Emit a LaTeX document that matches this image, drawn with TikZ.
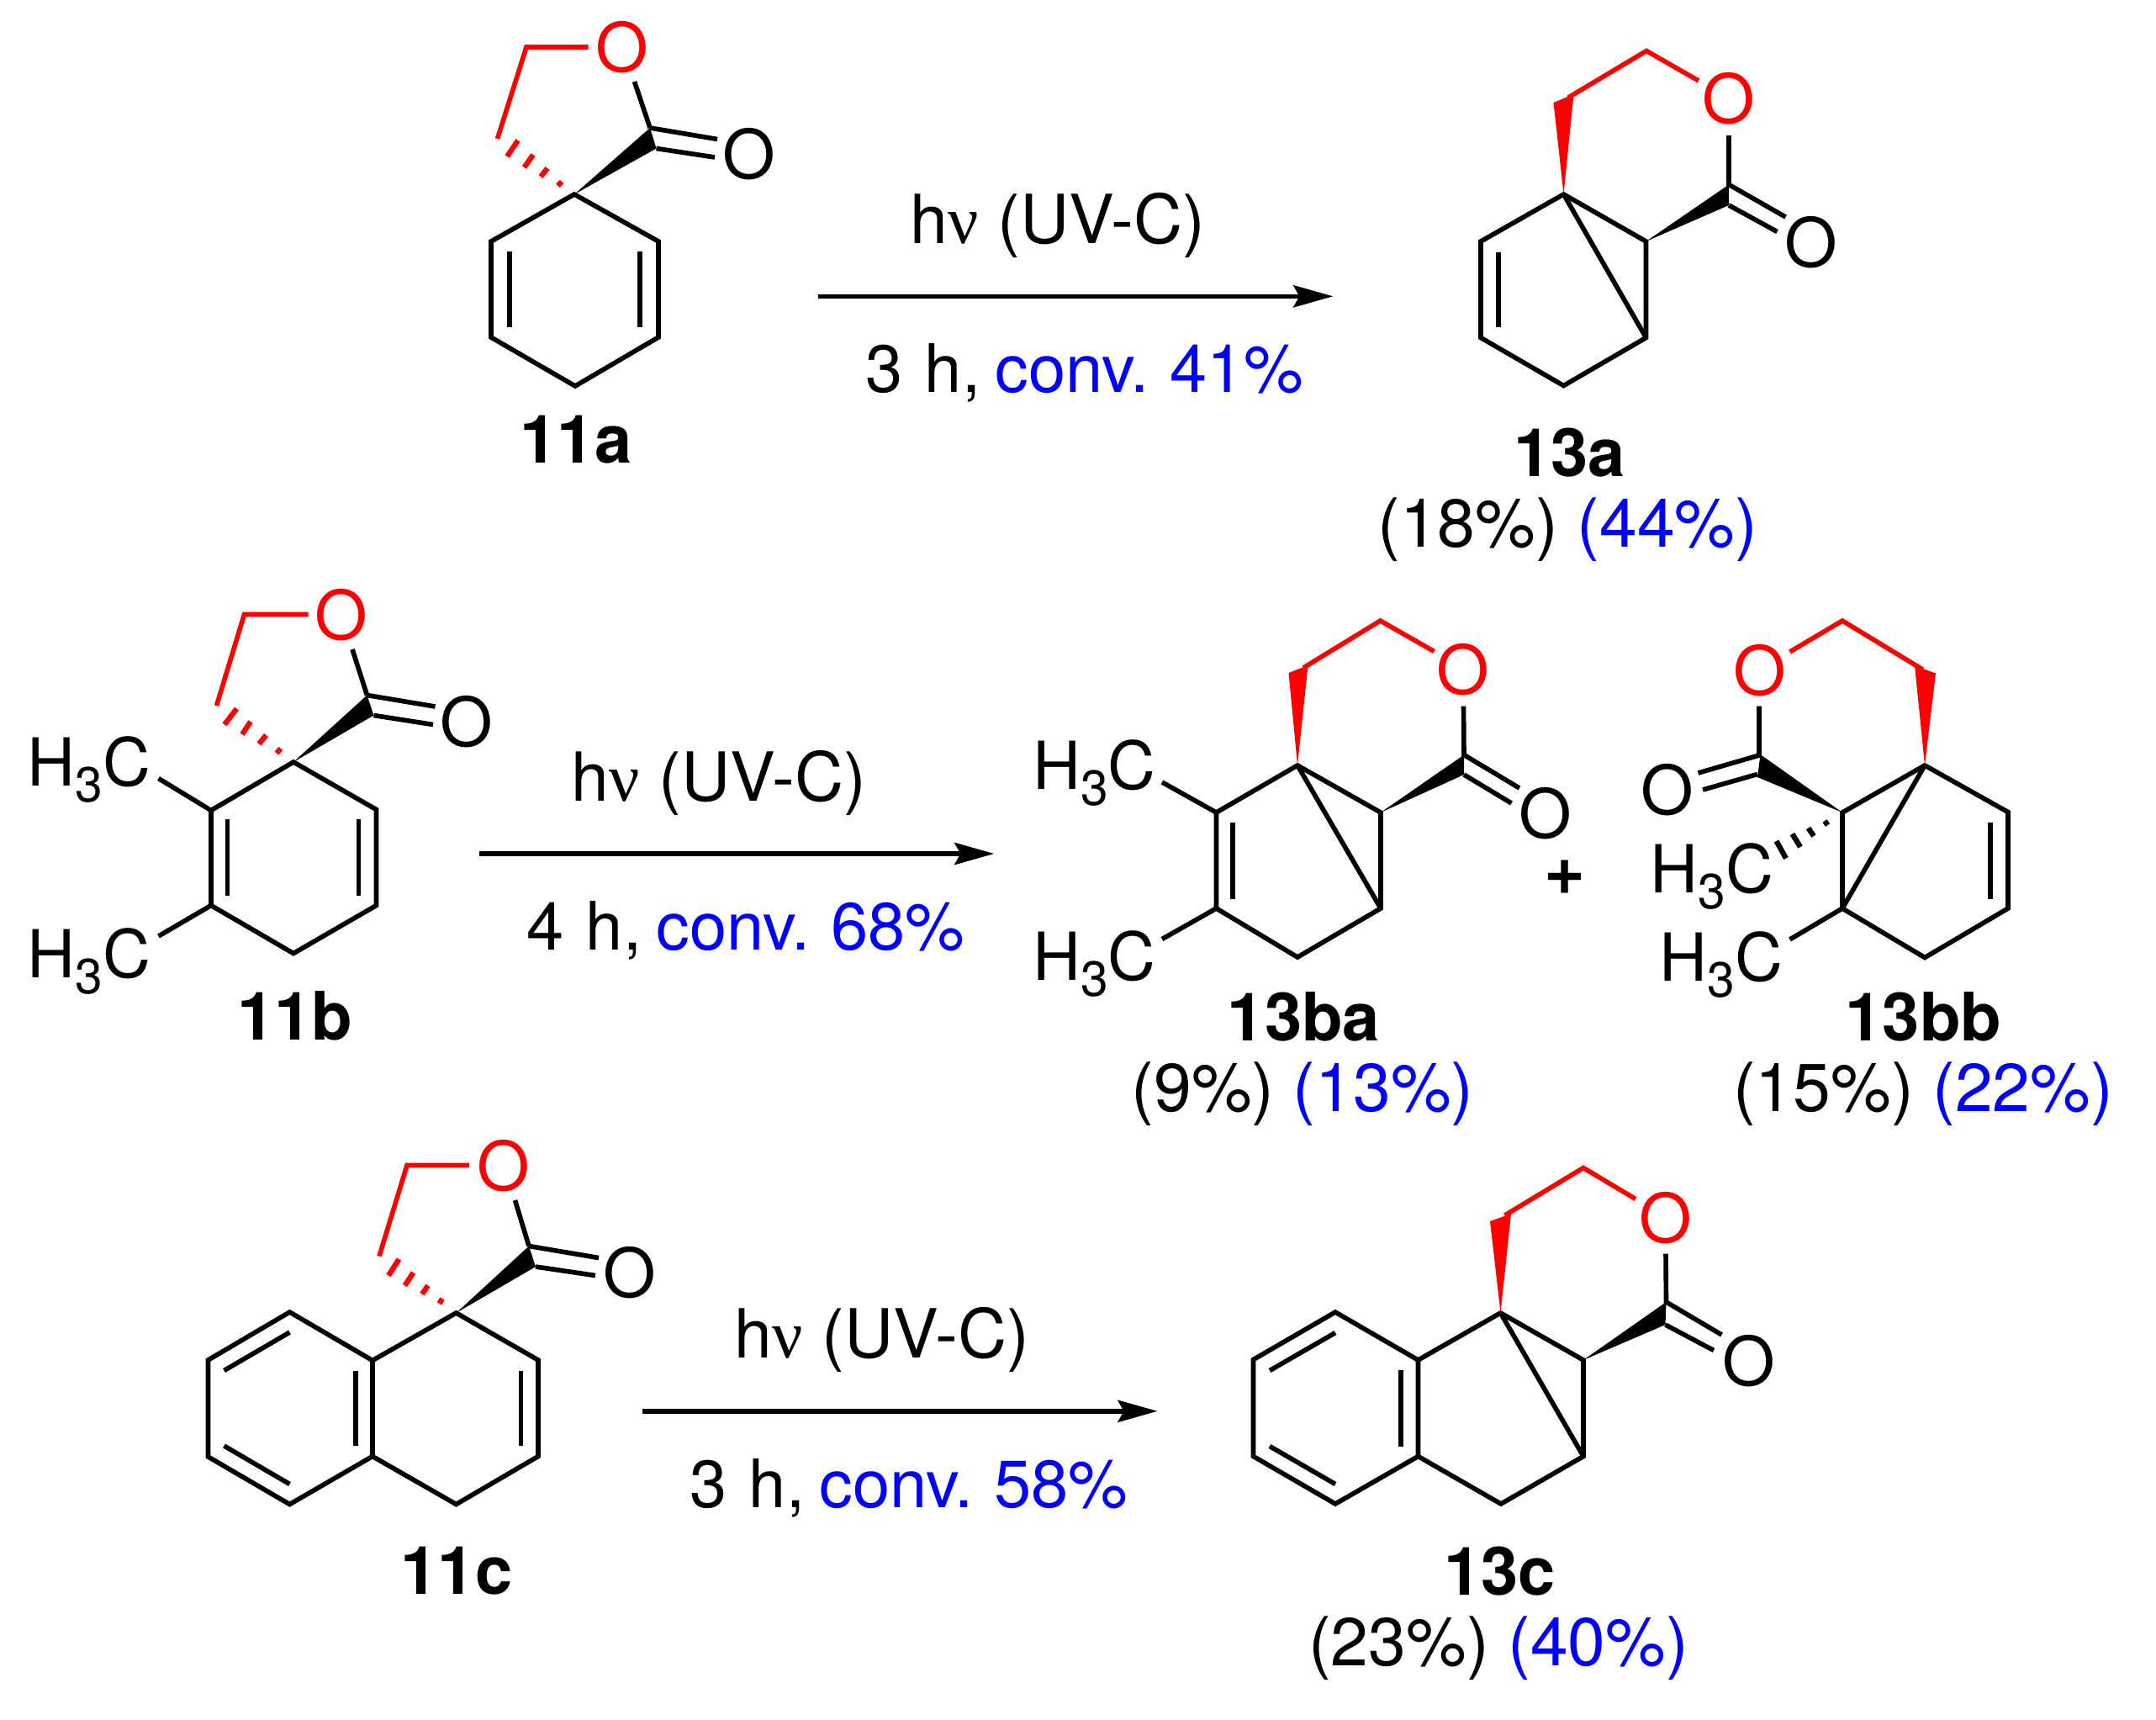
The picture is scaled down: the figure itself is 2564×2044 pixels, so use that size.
\documentclass[tikz,border=0pt]{standalone}
\usepackage{fontspec}
\setmainfont{TeX Gyre Heros}
\newfontfamily\greekfont{Liberation Serif}
\usepackage{tikz}
\usetikzlibrary{arrows.meta}

\newcommand{\chemsize}{\fontsize{22.9}{26}\selectfont}
\newcommand{\boldsize}{\fontsize{22.6}{26}\selectfont\bfseries}
\newcommand{\timesize}{\fontsize{22.6}{26}\selectfont\setlength{\spaceskip}{4.9pt}}
\newcommand{\methylsize}{\fontsize{22.4}{26}\selectfont}
\newcommand{\plussize}{\fontsize{23.9}{26}\selectfont\bfseries}
\newcommand{\methyl}{H\raisebox{-0.19cm}{\fontsize{16.7}{18}\selectfont 3}C}

\tikzset{
	bond/.style={line width=1.6pt},
	redbond/.style={bond, color=red},
	hash/.style={line width=1.8pt},
	atom/.style={inner sep=0, font=\chemsize},
	redatom/.style={atom, text=red},
	chemlab/.style={inner sep=0, anchor=base, font=\chemsize},
	boldlab/.style={chemlab, font=\boldsize},
	timelab/.style={chemlab, font=\timesize},
	methyllab/.style={chemlab, anchor=base east, font=\methylsize},
	rxnarrow/.style={line width=1.6pt, -{Stealth[length=0.47cm, width=0.26cm, inset=0.07cm]}}
}

\begin{document}
\begin{tikzpicture}[x=0.01cm, y=-0.01cm]
	\useasboundingbox (0,0) rectangle (2564,2044);

	% 11a
	\coordinate (a1) at (683,231); \coordinate (a2) at (584,287); \coordinate (a3) at (584,401);
	\coordinate (a4) at (684,459); \coordinate (a5) at (783,401); \coordinate (a6) at (783,287);
	\coordinate (a7) at (606,299); \coordinate (a8) at (606,389);
	\coordinate (a9) at (761,299); \coordinate (a10) at (761,389);
	\coordinate (ac) at (773,152); \coordinate (ad) at (780.5,176.5);
	\coordinate (ae) at (853,165.5); \coordinate (af) at (850,187);
	\coordinate (ag) at (754.5,97); \coordinate (ah) at (699.5,56);
	\coordinate (ai) at (626,56); \coordinate (aj) at (591.5,165);
	\node [redatom] (aO) at (740,56) {O};
	\node [atom] (aOx) at (891,183) {O};
	\draw [bond] (a1) -- (a2) -- (a3) -- (a4) -- (a5) -- (a6) -- cycle;
	\draw [bond] (a7) -- (a8);
	\draw [bond] (a9) -- (a10);
	\fill (a1) -- (ac) -- (ad) -- cycle;
	\draw [bond] (ac) -- (ae);
	\draw [bond] (ad) -- (af);
	\draw [bond] (ag) -- (ac);
	\draw [redbond] (ah) -- (ai) -- (aj);
	\draw [hash, color=red] (616,167) -- (603,186);
	\draw [hash, color=red] (634,184) -- (623.5,199);
	\draw [hash, color=red] (651,200) -- (643,210);
	\draw [hash, color=red] (668,216) -- (663.5,221);
	\node [boldlab] (n11a) at (685,550.5) {11a};

	% arrow 1
	\coordinate (s1) at (973,352.3); \coordinate (e1) at (1585.3,352.3);
	\draw [rxnarrow] (s1) -- (e1);
	\node [chemlab] (uv1) at (1258,289.3) {h{\greekfont ν} (UV-C)};
	\node [timelab] (t1) at (1290,466.7) {3\hspace{7.4pt}h, \textcolor{blue}{conv. 41\%}};

	% 13a
	\coordinate (b1) at (1859.5,231); \coordinate (b2) at (1761,287); \coordinate (b3) at (1761,401.5);
	\coordinate (b4) at (1859.5,458.5); \coordinate (b5) at (1957.5,401.5); \coordinate (b6) at (1957.5,287);
	\coordinate (b7) at (1782,299.5); \coordinate (b8) at (1782,389);
	\coordinate (bw1) at (1847.5,122); \coordinate (bw2) at (1871.5,112);
	\coordinate (bt) at (1865,116); \coordinate (bu) at (1958,60.5); \coordinate (bv) at (2020,96);
	\coordinate (bc) at (2056,219.5); \coordinate (bd) at (2056,244);
	\coordinate (bg) at (2056,161); \coordinate (be) at (2123.5,258); \coordinate (bf) at (2113.5,275.5);
	\node [redatom] (bO) at (2056,117.5) {O};
	\node [atom] (bOx) at (2154,288) {O};
	\draw [bond] (b1) -- (b2) -- (b3) -- (b4) -- (b5) -- (b6) -- cycle;
	\draw [bond] (b1) -- (b5);
	\draw [bond] (b7) -- (b8);
	\fill [red] (b1) -- (bw1) -- (bw2) -- cycle;
	\draw [redbond] (bt) -- (bu) -- (bv);
	\fill (b6) -- (bc) -- (bd) -- cycle;
	\draw [bond] (bg) -- (bc) -- (be);
	\draw [bond] (bd) -- (bf);
	\node [boldlab] (n13a) at (1866.5,566.4) {13a};
	\node [chemlab] (y13a) at (1864.3,650.7) {(18\%) \textcolor{blue}{(44\%)}};

	% 11b
	\coordinate (c1) at (349,906); \coordinate (c2) at (251,963.5); \coordinate (c3) at (251,1076.5);
	\coordinate (c4) at (349,1133.5); \coordinate (c5) at (447.5,1076.5); \coordinate (c6) at (447.5,962.5);
	\coordinate (c7) at (270.5,974); \coordinate (c8) at (270.5,1065);
	\coordinate (c9) at (426.5,974); \coordinate (c10) at (426.5,1065);
	\coordinate (cc) at (436.5,826.5); \coordinate (cd) at (444.5,850.5);
	\coordinate (ce) at (517.5,840); \coordinate (cf) at (515,861.5);
	\coordinate (cg) at (419,772); \coordinate (ch) at (366.5,730.5);
	\coordinate (ci) at (290.5,730.5); \coordinate (cj) at (257.5,839);
	\coordinate (cm1) at (188.5,925.5); \coordinate (cm2) at (188.5,1113);
	\node [redatom] (cO) at (406,731) {O};
	\node [atom] (cOx) at (555,858) {O};
	\draw [bond] (c1) -- (c2) -- (c3) -- (c4) -- (c5) -- (c6) -- cycle;
	\draw [bond] (c7) -- (c8);
	\draw [bond] (c9) -- (c10);
	\fill (c1) -- (cc) -- (cd) -- cycle;
	\draw [bond] (cc) -- (ce);
	\draw [bond] (cd) -- (cf);
	\draw [bond] (cg) -- (cc);
	\draw [redbond] (ch) -- (ci) -- (cj);
	\draw [hash, color=red] (281.5,842.5) -- (267,861.5);
	\draw [hash, color=red] (298,858) -- (288,873);
	\draw [hash, color=red] (316.5,874) -- (308,884.5);
	\draw [hash, color=red] (334,890) -- (329,895.5);
	\draw [bond] (c2) -- (cm1);
	\draw [bond] (c3) -- (cm2);
	\node [methyllab] (cMe1) at (180,934.6) {\methyl};
	\node [methyllab] (cMe2) at (180,1162.1) {\methyl};
	\node [boldlab] (n11b) at (351,1236.4) {11b};

	% arrow 2
	\coordinate (s2) at (570,1015); \coordinate (e2) at (1182.3,1015);
	\draw [rxnarrow] (s2) -- (e2);
	\node [chemlab] (uv2) at (855,952) {h{\greekfont ν} (UV-C)};
	\node [timelab] (t2) at (887,1129.4) {4\hspace{7.4pt}h, \textcolor{blue}{conv. 68\%}};

	% 13ba
	\coordinate (d1) at (1543,910); \coordinate (d2) at (1446.5,966); \coordinate (d3) at (1446.5,1080);
	\coordinate (d4) at (1543,1138); \coordinate (d5) at (1642,1080); \coordinate (d6) at (1642,966);
	\coordinate (d7) at (1466,978); \coordinate (d8) at (1466,1068.5);
	\coordinate (dw1) at (1532.5,800); \coordinate (dw2) at (1555.5,791);
	\coordinate (dt) at (1550,794); \coordinate (du) at (1641.5,738); \coordinate (dv) at (1705.5,774.5);
	\coordinate (dc) at (1741,897.5); \coordinate (dd) at (1741,921);
	\coordinate (dg) at (1740.5,839.5); \coordinate (de) at (1807,937); \coordinate (df) at (1797.5,955);
	\coordinate (dm1) at (1382,930); \coordinate (dm2) at (1382,1116.5);
	\node [redatom] (dO) at (1740,796.5) {O};
	\node [atom] (dOx) at (1838,967) {O};
	\draw [bond] (d1) -- (d2) -- (d3) -- (d4) -- (d5) -- (d6) -- cycle;
	\draw [bond] (d1) -- (d5);
	\draw [bond] (d7) -- (d8);
	\fill [red] (d1) -- (dw1) -- (dw2) -- cycle;
	\draw [redbond] (dt) -- (du) -- (dv);
	\fill (d6) -- (dc) -- (dd) -- cycle;
	\draw [bond] (dg) -- (dc) -- (de);
	\draw [bond] (dd) -- (df);
	\draw [bond] (d2) -- (dm1);
	\draw [bond] (d3) -- (dm2);
	\node [methyllab] (dMe1) at (1375.5,938.3) {\methyl};
	\node [methyllab] (dMe2) at (1375.5,1165.6) {\methyl};
	\node [boldlab] (n13ba) at (1550.5,1237) {13ba};
	\node [chemlab] (y13ba) at (1549,1321) {(9\%) \textcolor{blue}{(13\%)}};
	\node [chemlab, font=\plussize] (plus) at (1861,1063) {+};

	% 13bb
	\coordinate (f1) at (2289,910); \coordinate (f2) at (2388,965.5); \coordinate (f3) at (2388,1080);
	\coordinate (f4) at (2289,1138.5); \coordinate (f5) at (2191,1080); \coordinate (f6) at (2191,966);
	\coordinate (f7) at (2367,978); \coordinate (f8) at (2367,1069);
	\coordinate (fw1) at (2277,791.5); \coordinate (fw2) at (2302,800.5);
	\coordinate (ft) at (2286.5,796); \coordinate (fu) at (2191,738); \coordinate (fv) at (2128.5,775);
	\coordinate (fc) at (2093.5,897); \coordinate (fd) at (2090,924);
	\coordinate (fg) at (2092,839.5); \coordinate (fh) at (2092,898); \coordinate (fe) at (2019.5,919); \coordinate (fi) at (2090,920.5); \coordinate (ff) at (2025,939);
	\coordinate (fm) at (2128.5,1117);
	\node [redatom] (fO) at (2092.5,797) {O};
	\node [atom] (fOx) at (1982.5,939.5) {O};
	\draw [bond] (f1) -- (f2) -- (f3) -- (f4) -- (f5) -- (f6) -- cycle;
	\draw [bond] (f1) -- (f5);
	\draw [bond] (f7) -- (f8);
	\fill [red] (f1) -- (fw1) -- (fw2) -- cycle;
	\draw [redbond] (ft) -- (fu) -- (fv);
	\fill (f6) -- (fc) -- (fd) -- cycle;
	\draw [bond] (fg) -- (fh) -- (fe);
	\draw [bond] (fi) -- (ff);
	\draw [bond] (f5) -- (fm);
	\draw [hash] (2112.5,1000) -- (2124,1020.5);
	\draw [hash] (2131.5,991.5) -- (2141,1007);
	\draw [hash] (2150.5,984.5) -- (2157,994);
	\draw [hash] (2170,976) -- (2173.5,981);
	\node [methyllab] (fMe1) at (2110,1061) {\methyl};
	\node [methyllab] (fMe2) at (2121,1166.2) {\methyl};
	\node [boldlab] (n13bb) at (2287.5,1237) {13bb};
	\node [chemlab] (y13bb) at (2287,1321) {(15\%) \textcolor{blue}{(22\%)}};

	% 11c
	\coordinate (g1) at (542.5,1561); \coordinate (g2) at (443,1617.5); \coordinate (g3) at (443,1731.5);
	\coordinate (g4) at (542.5,1788.5); \coordinate (g5) at (640,1731.5); \coordinate (g6) at (640,1617);
	\coordinate (g7) at (344.5,1560); \coordinate (g8) at (247.5,1617); \coordinate (g9) at (247.5,1732); \coordinate (g10) at (344.5,1788.5);
	\coordinate (g11) at (423,1629.5); \coordinate (g12) at (423,1719);
	\coordinate (g13) at (619.5,1629.5); \coordinate (g14) at (619.5,1719);
	\coordinate (g15) at (266.5,1629.5); \coordinate (g16) at (344.5,1584);
	\coordinate (g17) at (266.5,1719); \coordinate (g18) at (344.5,1764.5);
	\coordinate (gc) at (629,1481.5); \coordinate (gd) at (637,1506);
	\coordinate (ge) at (712,1495.5); \coordinate (gf) at (708,1516.5);
	\coordinate (gg) at (612.5,1427); \coordinate (gh) at (558,1385.5);
	\coordinate (gi) at (484,1385.5); \coordinate (gj) at (451,1493.5);
	\node [redatom] (gO) at (599,1386) {O};
	\node [atom] (gOx) at (749,1513) {O};
	\draw [bond] (g1) -- (g2) -- (g3) -- (g4) -- (g5) -- (g6) -- cycle;
	\draw [bond] (g2) -- (g7) -- (g8) -- (g9) -- (g10) -- (g3);
	\draw [bond] (g11) -- (g12);
	\draw [bond] (g13) -- (g14);
	\draw [bond] (g15) -- (g16);
	\draw [bond] (g17) -- (g18);
	\fill (g1) -- (gc) -- (gd) -- cycle;
	\draw [bond] (gc) -- (ge);
	\draw [bond] (gd) -- (gf);
	\draw [bond] (gg) -- (gc);
	\draw [redbond] (gh) -- (gi) -- (gj);
	\draw [hash, color=red] (474.5,1497) -- (462,1516.5);
	\draw [hash, color=red] (491.5,1513) -- (481.5,1528.5);
	\draw [hash, color=red] (509,1528.5) -- (502,1538.5);
	\draw [hash, color=red] (526,1544) -- (522.5,1550);
	\node [boldlab] (n11c) at (543,1895.7) {11c};

	% arrow 3
	\coordinate (s3) at (764.2,1677.8); \coordinate (e3) at (1376.5,1677.8);
	\draw [rxnarrow] (s3) -- (e3);
	\node [chemlab] (uv3) at (1049,1614.8) {h{\greekfont ν} (UV-C)};
	\node [timelab] (t3) at (1081,1792.2) {3\hspace{7.4pt}h, \textcolor{blue}{conv. 58\%}};

	% 13c
	\coordinate (k1) at (1784.5,1561); \coordinate (k2) at (1686.5,1617); \coordinate (k3) at (1686.5,1731.5);
	\coordinate (k4) at (1785,1788); \coordinate (k5) at (1883,1731.5); \coordinate (k6) at (1883,1617);
	\coordinate (k7) at (1588,1560); \coordinate (k8) at (1490.5,1616.5); \coordinate (k9) at (1490.5,1731.5); \coordinate (k10) at (1588,1788);
	\coordinate (k11) at (1666,1629); \coordinate (k12) at (1666,1720);
	\coordinate (k13) at (1510,1629.5); \coordinate (k14) at (1588,1584.5);
	\coordinate (k15) at (1510,1719.5); \coordinate (k16) at (1588,1764.5);
	\coordinate (kw1) at (1772,1452); \coordinate (kw2) at (1797,1443);
	\coordinate (kt) at (1789.5,1445); \coordinate (ku) at (1883,1388.5); \coordinate (kv) at (1945,1425.5);
	\coordinate (kc) at (1981.5,1548); \coordinate (kd) at (1980.5,1575);
	\coordinate (kg) at (1981,1490.5); \coordinate (ke) at (2047.5,1587); \coordinate (kf) at (2038,1605.5);
	\node [redatom] (kO) at (1981,1448) {O};
	\node [atom] (kOx) at (2079.5,1618) {O};
	\draw [bond] (k1) -- (k2) -- (k3) -- (k4) -- (k5) -- (k6) -- cycle;
	\draw [bond] (k1) -- (k5);
	\draw [bond] (k2) -- (k7) -- (k8) -- (k9) -- (k10) -- (k3);
	\draw [bond] (k11) -- (k12);
	\draw [bond] (k13) -- (k14);
	\draw [bond] (k15) -- (k16);
	\fill [red] (k1) -- (kw1) -- (kw2) -- cycle;
	\draw [redbond] (kt) -- (ku) -- (kv);
	\fill (k6) -- (kc) -- (kd) -- cycle;
	\draw [bond] (kg) -- (kc) -- (ke);
	\draw [bond] (kd) -- (kf);
	\node [boldlab] (n13c) at (1783.5,1896) {13c};
	\node [chemlab] (y13c) at (1782,1980) {(23\%) \textcolor{blue}{(40\%)}};
\end{tikzpicture}
\end{document}
